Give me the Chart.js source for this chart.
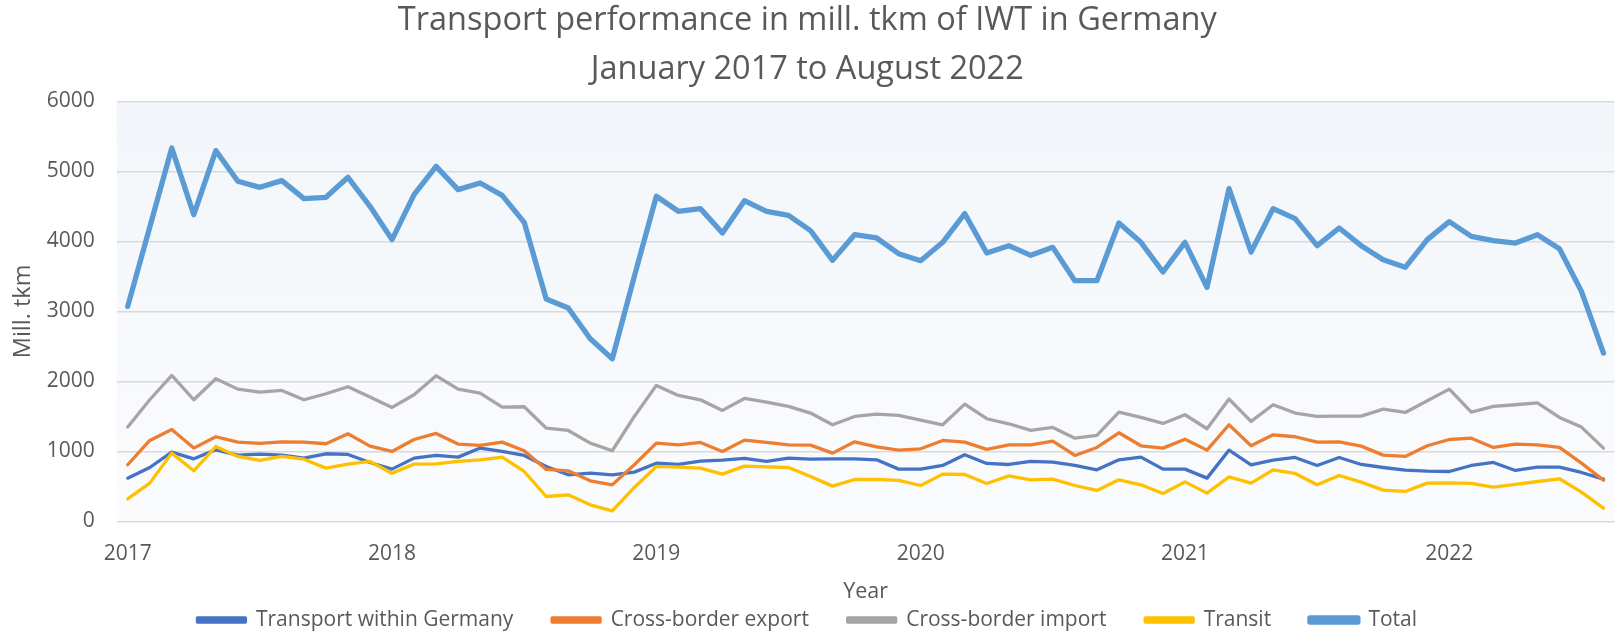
<!DOCTYPE html>
<html>
<head>
<meta charset="utf-8">
<script src="https://cdn.jsdelivr.net/npm/chart.js@4"></script>
<style>
  html, body { margin: 0; padding: 0; background: #fff; }
  #wrap { width: 1616px; height: 631px; }
</style>
</head>
<body>
<div id="wrap"><canvas id="chart" width="1616" height="631"></canvas></div>
<script>
// categories: one per month, January 2017 to August 2022
const years = [2017, 2018, 2019, 2020, 2021, 2022];
const monthsInLastYear = 8;
const months = [];
years.forEach((y, i) => {
  const n = i === years.length - 1 ? monthsInLastYear : 12;
  for (let m = 1; m <= n; m++) months.push(y + '-' + String(m).padStart(2, '0'));
});

// series values in mill. tkm
const withinGermany = [619, 771, 990, 895, 1024, 948, 962, 948, 905, 967, 957, 843,
  748, 905, 943, 919, 1048, 1000, 943, 786, 667, 690, 667, 705,
  833, 814, 862, 876, 900, 857, 905, 890, 895, 895, 881, 748,
  748, 800, 952, 829, 814, 857, 848, 800, 738, 881, 919, 748,
  748, 619, 1019, 810, 876, 914, 800, 914, 814, 771, 733, 719,
  714, 800, 843, 729, 776, 776, 700, 605];
const crossBorderExport = [810, 1157, 1314, 1048, 1210, 1133, 1114, 1138, 1133, 1110, 1252, 1076,
  1000, 1171, 1257, 1105, 1086, 1133, 1010, 743, 724, 581, 524, 810,
  1119, 1095, 1129, 1000, 1162, 1129, 1095, 1090, 976, 1138, 1067, 1019,
  1038, 1157, 1133, 1029, 1095, 1095, 1148, 943, 1057, 1267, 1081, 1048,
  1175, 1019, 1381, 1081, 1238, 1210, 1133, 1138, 1076, 948, 929, 1081,
  1171, 1190, 1057, 1105, 1095, 1057, 833, 590];
const crossBorderImport = [1348, 1738, 2086, 1738, 2038, 1890, 1848, 1871, 1738, 1824, 1924, 1776,
  1629, 1810, 2081, 1890, 1833, 1633, 1638, 1333, 1300, 1119, 1010, 1500,
  1943, 1800, 1738, 1586, 1757, 1705, 1643, 1548, 1381, 1500, 1533, 1514,
  1448, 1381, 1676, 1467, 1395, 1300, 1343, 1190, 1229, 1562, 1486, 1400,
  1524, 1324, 1748, 1429, 1667, 1548, 1500, 1505, 1505, 1605, 1557, 1724,
  1890, 1562, 1643, 1667, 1695, 1486, 1348, 1048];
const transit = [324, 548, 976, 724, 1071, 929, 871, 929, 890, 762, 819, 857,
  690, 819, 824, 857, 881, 919, 714, 357, 381, 238, 152, 486,
  786, 776, 762, 676, 790, 781, 771, 643, 505, 600, 600, 586,
  514, 676, 671, 543, 652, 595, 605, 514, 443, 595, 524, 400,
  566, 405, 638, 548, 738, 686, 524, 657, 562, 448, 429, 548,
  552, 543, 490, 529, 571, 610, 419, 190];
const total = [3071, 4200, 5333, 4381, 5295, 4857, 4771, 4867, 4610, 4629, 4914, 4500,
  4024, 4667, 5071, 4738, 4833, 4657, 4271, 3176, 3048, 2610, 2324, 3500,
  4643, 4429, 4467, 4119, 4581, 4429, 4371, 4152, 3729, 4095, 4048, 3824,
  3724, 3986, 4395, 3833, 3938, 3800, 3914, 3438, 3438, 4262, 3986, 3562,
  3986, 3343, 4752, 3848, 4467, 4324, 3938, 4190, 3938, 3738, 3629, 4024,
  4281, 4071, 4010, 3976, 4095, 3895, 3286, 2405];

const seriesNames = ['Transport within Germany', 'Cross-border export', 'Cross-border import', 'Transit', 'Total'];
const yTicks = [0, 1000, 2000, 3000, 4000, 5000, 6000];

const FONT = 'Open Sans';
const TEXT = '#595959';

// light blue plot area, like the original
const plotBackground = {
  id: 'plotBackground',
  beforeDraw(chart) {
    const { ctx, chartArea: a } = chart;
    const g = ctx.createLinearGradient(0, a.top, 0, a.bottom);
    g.addColorStop(0, '#f2f6fa');
    g.addColorStop(1, '#fafbfd');
    ctx.save();
    ctx.fillStyle = g;
    ctx.fillRect(a.left, a.top, a.right - a.left, a.bottom - a.top);
    ctx.restore();
  }
};

function line(label, data, color, width, order) {
  return {
    label, data,
    borderColor: color,
    backgroundColor: color,
    borderWidth: width,
    pointRadius: 0,
    tension: 0,
    borderJoinStyle: 'round',
    borderCapStyle: 'round',
    order
  };
}

new Chart(document.getElementById('chart'), {
  type: 'line',
  data: {
    labels: months,
    datasets: [
      line(seriesNames[0], withinGermany, '#4472c4', 3.3, 5),
      line(seriesNames[1], crossBorderExport, '#ed7d31', 3.3, 4),
      line(seriesNames[2], crossBorderImport, '#a5a5a5', 3.3, 3),
      line(seriesNames[3], transit, '#ffc000', 3.3, 2),
      line(seriesNames[4], total, '#5b9bd5', 5.3, 1)
    ]
  },
  options: {
    responsive: false,
    animation: false,
    layout: { padding: { left: 0, right: 1.5, top: 0, bottom: -9.5 } },
    plugins: {
      title: {
        display: true,
        text: ['Transport performance in mill. tkm of IWT in Germany', 'January 2017 to August 2022'],
        color: TEXT,
        font: { family: FONT, size: 32.5, weight: 'normal', lineHeight: 1.49 },
        padding: { top: -3, bottom: 7.4 }
      },
      legend: {
        position: 'bottom',
        labels: {
          color: TEXT,
          font: { family: FONT, size: 21 },
          boxWidth: 48,
          boxHeight: 4,
          padding: 38.75,
          sort: (a, b) => a.datasetIndex - b.datasetIndex
        }
      },
      tooltip: { enabled: false }
    },
    scales: {
      x: {
        offset: true,
        grid: { display: false },
        border: { display: false },
        ticks: {
          autoSkip: false,
          maxRotation: 0,
          color: TEXT,
          font: { family: FONT, size: 21 },
          padding: 11.5,
          callback: (v, i) => months[i].endsWith('-01') ? months[i].slice(0, 4) : ''
        },
        title: { display: true, text: 'Year', color: TEXT, font: { family: FONT, size: 21.5 }, padding: { top: 1, bottom: -33.75 } }
      },
      y: {
        min: yTicks[0],
        max: yTicks[yTicks.length - 1],
        afterBuildTicks: axis => { axis.ticks = yTicks.map(v => ({ value: v })); },
        afterFit: axis => { axis.width = 116.7; },
        grid: { color: '#d9d9d9', lineWidth: 1.5, drawTicks: false },
        border: { display: false },
        ticks: { color: TEXT, font: { family: FONT, size: 21 }, padding: 22, callback: v => String(v) },
        title: { display: true, text: 'Mill. tkm', color: TEXT, font: { family: FONT, size: 23.5 }, padding: { top: 9.2, bottom: 0 } }
      }
    }
  },
  plugins: [plotBackground]
});
</script>
</body>
</html>
